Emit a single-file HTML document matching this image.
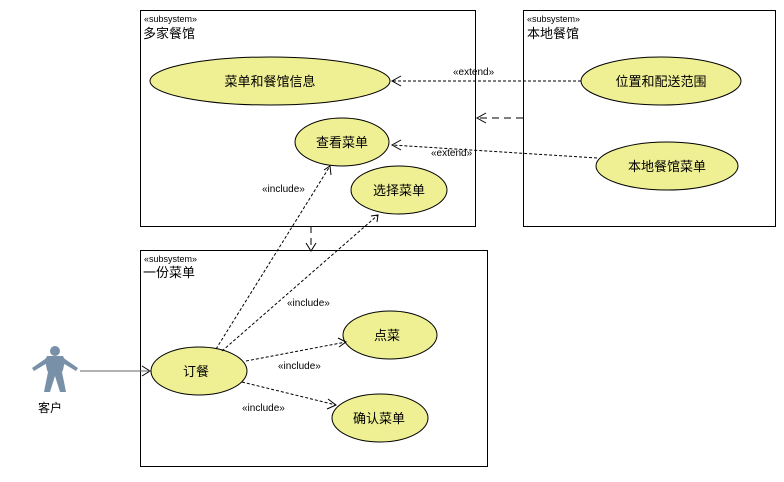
<!DOCTYPE html>
<html><head><meta charset="utf-8"><style>
body{margin:0;background:#fff}
svg text{font-family:"Liberation Sans","Noto Sans CJK SC",sans-serif;fill:#000}
</style></head><body>
<svg width="784" height="477" viewBox="0 0 784 477" xmlns="http://www.w3.org/2000/svg">
<g fill="#fff" stroke="#000" stroke-width="1">
<rect x="140.5" y="10.5" width="335" height="216"/>
<rect x="523.5" y="10.5" width="252" height="216"/>
<rect x="140.5" y="250.5" width="347" height="216"/>
</g>
<g font-size="9"><text x="144" y="22">«subsystem»</text><text x="527" y="22">«subsystem»</text><text x="144" y="262">«subsystem»</text></g>
<g font-size="13"><text x="143" y="38">多家餐馆</text><text x="527" y="38">本地餐馆</text><text x="143" y="277">一份菜单</text></g>
<g fill="#efef94" stroke="#000" stroke-width="1">
<ellipse cx="270" cy="81" rx="120" ry="24"/>
<ellipse cx="342" cy="142" rx="47" ry="24"/>
<ellipse cx="399" cy="190" rx="48" ry="24"/>
<ellipse cx="661" cy="81" rx="80" ry="24"/>
<ellipse cx="667" cy="166" rx="71" ry="24"/>
<ellipse cx="199" cy="371" rx="48" ry="24"/>
<ellipse cx="390" cy="335" rx="47" ry="24"/>
<ellipse cx="380" cy="418" rx="48" ry="24"/>
</g>
<g font-size="13" text-anchor="middle">
<text x="270" y="86">菜单和餐馆信息</text>
<text x="342" y="147">查看菜单</text>
<text x="399" y="195">选择菜单</text>
<text x="661" y="86">位置和配送范围</text>
<text x="667" y="171">本地餐馆菜单</text>
<text x="196" y="376">订餐</text>
<text x="387" y="340">点菜</text>
<text x="379" y="423">确认菜单</text>
</g>
<g stroke="#000" fill="none" stroke-width="1" stroke-dasharray="3,2">
<line x1="581" y1="81" x2="392" y2="81"/>
<line x1="597" y1="158" x2="392" y2="145"/>
<line x1="216" y1="349" x2="330" y2="166"/>
<line x1="222" y1="351" x2="378" y2="215"/>
<line x1="246" y1="361" x2="346" y2="342"/>
<line x1="242" y1="382" x2="336" y2="405"/>
</g>
<g stroke="#000" fill="none" stroke-width="1" stroke-dasharray="7,5">
<line x1="523" y1="118" x2="478" y2="118"/>
<line x1="311" y1="226" x2="311" y2="250"/>
</g>
<g stroke="#000" fill="none" stroke-width="1">
<polyline points="401,76 392,81 401,86"/>
<polyline points="401,140 392,145 401,150"/>
<polyline points="324,170 330,166 331,175"/>
<polyline points="371,216 378,215 377,222"/>
<polyline points="338,338 346,342 339,347"/>
<polyline points="328,399 336,405 327,409"/>
<polyline points="486,113 477,118 486,123"/>
<polyline points="306,243 311,251 316,243"/>
<polyline points="142,366 150,371 142,376"/>
</g>
<line x1="80" y1="371" x2="150" y2="371" stroke="#666"/>
<g font-size="10">
<text x="453" y="75">«extend»</text>
<text x="431" y="156">«extend»</text>
<text x="262" y="192">«include»</text>
<text x="287" y="306">«include»</text>
<text x="278" y="369">«include»</text>
<text x="242" y="411">«include»</text>
</g>
<g fill="#7890a8">
<circle cx="55" cy="351" r="5"/>
<path d="M47,356 h16 l2,4 l-2,10 l-1,2 l4,20 h-6 l-5,-16 l-5,16 h-6 l4,-20 l-1,-2 l-2,-10z"/>
<path d="M48,357 L32,368 L34,371 L49,362z M62,357 L78,368 L76,371 L61,362z"/>
</g>
<text x="38" y="412" font-size="12">客户</text>
</svg>
</body></html>
